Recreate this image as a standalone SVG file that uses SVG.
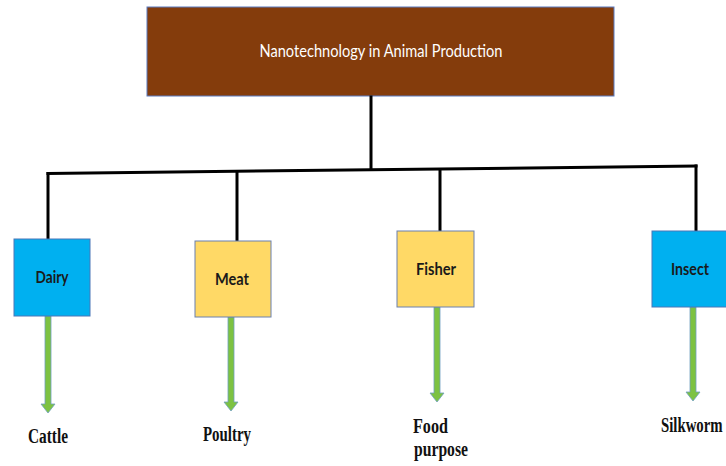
<svg xmlns="http://www.w3.org/2000/svg" width="726" height="466" viewBox="0 0 726 466">
  <style>
    .title { font-family: Lato, "Open Sans", "Liberation Sans", sans-serif; font-size: 17px; fill: #ffffff; text-anchor: middle; }
    .box-blue { fill: #00b0f0; stroke: #4a76b8; stroke-width: 1; }
    .box-yellow { fill: #ffd966; stroke: #6a80b0; stroke-width: 1; }
    .box-label { font-family: Lato, "Open Sans", "Liberation Sans", sans-serif; font-size: 17px; font-weight: bold; fill: #1a1a1a; text-anchor: middle; }
    .leaf { font-family: "Liberation Serif", "Times New Roman", serif; font-size: 20px; font-weight: bold; fill: #111111; }
    .wire { stroke: #000000; stroke-width: 3; fill: none; stroke-linecap: square; }
    .arrow { fill: #7dc242; stroke: #6e9fc0; stroke-width: 0.8; }
  </style>

  <!-- root node -->
  <g id="root">
    <rect x="147" y="7" width="467" height="89" fill="#843c0c" stroke="#5b7bc0" stroke-width="1"/>
    <text class="title" x="381" y="57" textLength="243" lengthAdjust="spacingAndGlyphs">Nanotechnology in Animal Production</text>
  </g>

  <!-- tree connectors and result arrows -->
  <g id="connectors">
    <line class="wire" x1="371" y1="97" x2="371" y2="168"/>
    <line class="wire" x1="48" y1="173.5" x2="696" y2="166"/>
    <line class="wire" x1="48" y1="173.5" x2="48" y2="239"/>
    <line class="wire" x1="237" y1="171.5" x2="237" y2="241"/>
    <line class="wire" x1="440" y1="169.5" x2="440" y2="231"/>
    <line class="wire" x1="696" y1="166" x2="696" y2="231"/>

    <path class="arrow" d="M45 316 H51 V404 H55 L48 413 L41 404 H45 Z"/>
    <path class="arrow" d="M228 317 H234 V402 H238 L231 411 L224 402 H228 Z"/>
    <path class="arrow" d="M434 307 H440 V393 H444 L437 402 L430 393 H434 Z"/>
    <path class="arrow" d="M690 307 H696 V392 H700 L693 401 L686 392 H690 Z"/>
  </g>

  <g id="dairy">
    <rect class="box-blue" x="14" y="239" width="76" height="77"/>
    <text class="box-label" x="52" y="283" textLength="33" lengthAdjust="spacingAndGlyphs">Dairy</text>
  </g>
  <g id="meat">
    <rect class="box-yellow" x="195" y="241" width="76" height="76"/>
    <text class="box-label" x="232" y="285" textLength="34" lengthAdjust="spacingAndGlyphs">Meat</text>
  </g>
  <g id="fisher">
    <rect class="box-yellow" x="397" y="231" width="77" height="76"/>
    <text class="box-label" x="436" y="275" textLength="40" lengthAdjust="spacingAndGlyphs">Fisher</text>
  </g>
  <g id="insect">
    <rect class="box-blue" x="652" y="231" width="80" height="76"/>
    <text class="box-label" x="690" y="275" textLength="38" lengthAdjust="spacingAndGlyphs">Insect</text>
  </g>

  <g id="cattle"><text class="leaf" x="28" y="443" textLength="40" lengthAdjust="spacingAndGlyphs">Cattle</text></g>
  <g id="poultry"><text class="leaf" x="203" y="441" textLength="48" lengthAdjust="spacingAndGlyphs">Poultry</text></g>
  <g id="food-purpose">
    <text class="leaf" x="413" y="433" textLength="35" lengthAdjust="spacingAndGlyphs">Food</text>
    <text class="leaf" x="414" y="456" textLength="54" lengthAdjust="spacingAndGlyphs">purpose</text>
  </g>
  <!-- narrowed horizontally so the word stays inside the right edge -->
  <g id="silkworm"><text class="leaf" transform="translate(661 432) scale(0.74 1)">Silkworm</text></g>
</svg>
